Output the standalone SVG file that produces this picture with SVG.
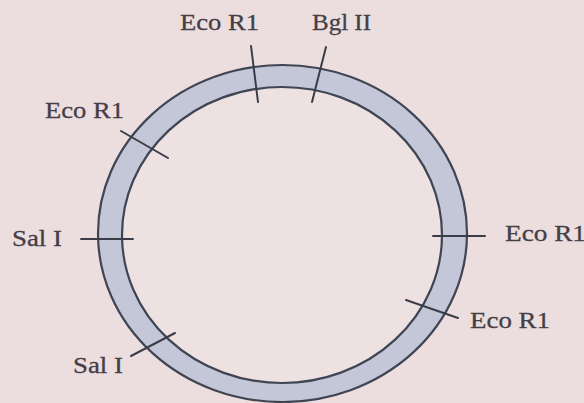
<svg xmlns="http://www.w3.org/2000/svg" width="584" height="403" viewBox="0 0 584 403">
  <style>
    .lbl { font-family: "Liberation Serif", "DejaVu Serif", serif; font-size: 23px; fill: #443e46; stroke: #443e46; stroke-width: 0.3; }
    .tick { stroke: #3a3d48; stroke-width: 2; stroke-linecap: round; fill: none; }
    .ringline { stroke: #3f4552; stroke-width: 2.2; }
  </style>
  <rect width="584" height="403" fill="#ecdedf"/>
  <g id="plasmid">
    <ellipse cx="282.5" cy="233.5" rx="184.5" ry="168.5" fill="#c4c7d7" class="ringline"/>
    <ellipse cx="282" cy="235" rx="160" ry="148" fill="#ede1e2" class="ringline"/>
  </g>
  <g id="connectors">
    <line class="tick" x1="251" y1="46" x2="258" y2="102"/>
    <line class="tick" x1="326" y1="47" x2="312" y2="102"/>
    <line class="tick" x1="121" y1="131" x2="168" y2="158"/>
    <line class="tick" x1="81" y1="239" x2="133" y2="239"/>
    <line class="tick" x1="131" y1="356" x2="175" y2="333"/>
    <line class="tick" x1="433" y1="236" x2="485" y2="236"/>
    <line class="tick" x1="406" y1="300" x2="458" y2="318"/>
  </g>
  <g id="site-ecor1-top"><text class="lbl" x="180" y="30" textLength="79" lengthAdjust="spacingAndGlyphs">Eco R1</text></g>
  <g id="site-bglii"><text class="lbl" x="312" y="30" textLength="59" lengthAdjust="spacingAndGlyphs">Bgl II</text></g>
  <g id="site-ecor1-left"><text class="lbl" x="45" y="118" textLength="79" lengthAdjust="spacingAndGlyphs">Eco R1</text></g>
  <g id="site-sali-left"><text class="lbl" x="12" y="246" textLength="50" lengthAdjust="spacingAndGlyphs">Sal I</text></g>
  <g id="site-sali-bottom"><text class="lbl" x="73" y="373" textLength="50" lengthAdjust="spacingAndGlyphs">Sal I</text></g>
  <g id="site-ecor1-right"><text class="lbl" x="505" y="241" textLength="81" lengthAdjust="spacingAndGlyphs">Eco R1</text></g>
  <g id="site-ecor1-lowright"><text class="lbl" x="470" y="328" textLength="80" lengthAdjust="spacingAndGlyphs">Eco R1</text></g>
</svg>
